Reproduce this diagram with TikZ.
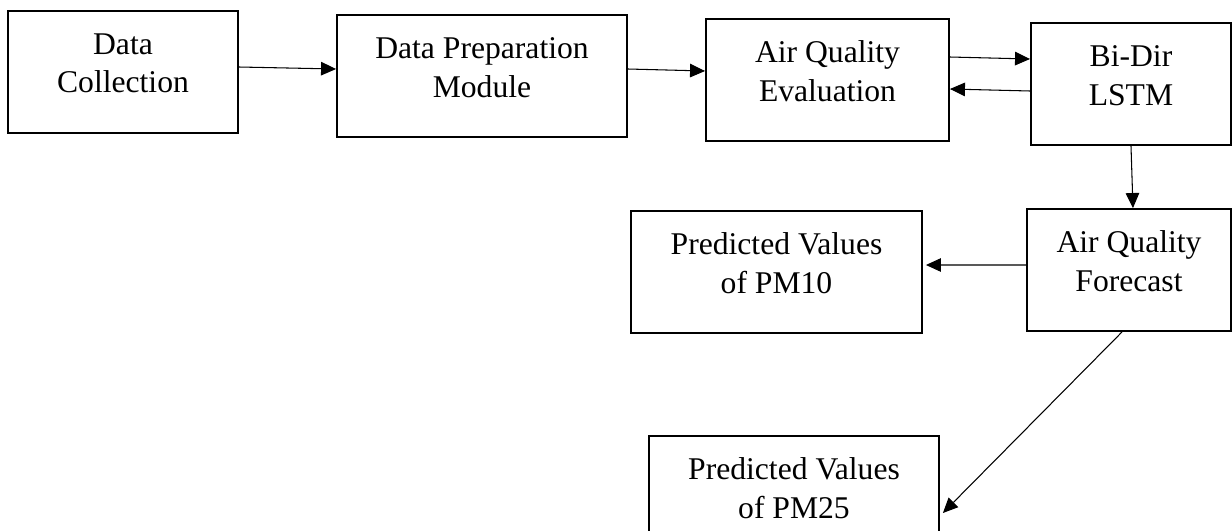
\documentclass[tikz,border=0pt]{standalone}
\usepackage{fontspec}
\setmainfont{Liberation Serif}
\usetikzlibrary{arrows.meta}

\begin{document}
\begin{tikzpicture}[x=0.02cm,y=-0.02cm]
		\tikzstyle{box}=[draw=black, line width=1.1pt, align=center, minimum height=2.44cm, text depth=10pt, inner sep=0pt, font=\fontsize{18}{22}\selectfont]
		\tikzstyle{flow}=[black, line width=0.6pt, -{Triangle[length=0.3cm,width=0.27cm]}]
		\useasboundingbox (0,0) rectangle (1232,531);
		\clip (0,0) rectangle (1232,531);
		\node [box, minimum width=4.6cm] (collect) at (123,72) {Data\\Collection};
		\node [box, minimum width=5.8cm] (prep) at (482,76) {Data Preparation\\Module};
		\node [box, minimum width=4.86cm] (evalq) at (827.5,80) {Air Quality\\Evaluation};
		\node [box, minimum width=4.0cm] (lstm) at (1131,84) {Bi-Dir\\LSTM};
		\node [box, minimum width=4.08cm] (forecast) at (1129,270) {Air Quality\\Forecast};
		\node [box, minimum width=5.82cm] (pm10) at (776.5,272) {Predicted Values\\of PM10};
		\node [box, minimum width=5.8cm] (pm25) at (794,497) {Predicted Values\\of PM25};
		\draw [flow] ([yshift=0.1cm]collect.east) -- ([yshift=0.14cm]prep.west);
		\draw [flow] ([yshift=0.14cm]prep.east) -- ([yshift=0.18cm]evalq.west);
		\draw [flow] ([yshift=0.46cm]evalq.east) -- ([yshift=0.5cm]lstm.west);
		\draw [flow] ([yshift=-0.14cm]lstm.west) -- ([yshift=-0.18cm]evalq.east);
		\draw [flow] (lstm.south) -- ([xshift=0.08cm]forecast.north);
		\draw [flow] ([yshift=0.1cm]forecast.west) -- ([xshift=0.06cm,yshift=0.14cm]pm10.east);
		\draw [flow] ([xshift=-0.14cm]forecast.south) -- ([xshift=0.06cm,yshift=-0.32cm]pm25.east);
	\end{tikzpicture}
\end{document}
